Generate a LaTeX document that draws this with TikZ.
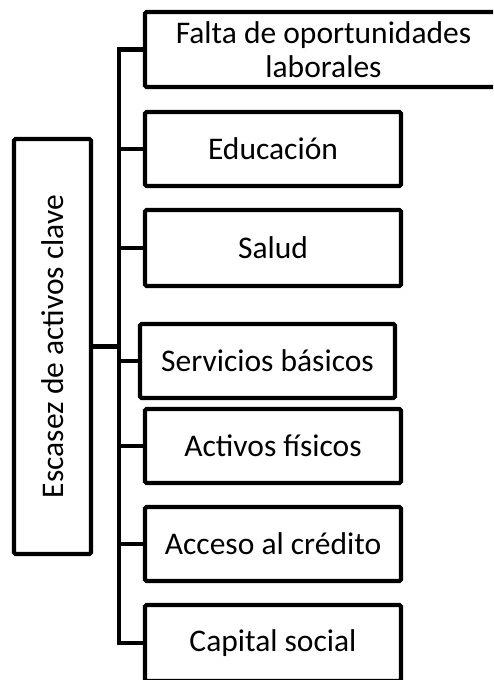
\documentclass[tikz,border=0pt]{standalone}
\usepackage{fontspec}
\setmainfont{Carlito}
\begin{document}
\begin{tikzpicture}[x=1pt,y=-1pt,
  box/.style={draw=black,line width=4.2pt,rounded corners=1.5pt,fill=white,align=center,inner sep=0pt,
    font=\fontsize{31.5}{34}\selectfont},
  conn/.style={draw=black,line width=4.2pt}]
\useasboundingbox (0,0) rectangle (493,680);
\clip (0,0) rectangle (493,680);
\node[box,minimum width=77pt,minimum height=415pt] (main) at (52.5,346.5) {\rotatebox{90}{Escasez de activos clave}};
\node[box,minimum width=357pt,minimum height=75pt] (b1) at (323.5,49.5) {Falta de oportunidades\\laborales};
\node[box,minimum width=256pt,minimum height=74pt] (b2) at (273,149) {Educación};
\node[box,minimum width=256pt,minimum height=76pt] (b3) at (273,248) {Salud};
\node[box,minimum width=255pt,minimum height=74pt] (b4) at (267.5,361) {Servicios básicos};
\node[box,minimum width=256pt,minimum height=74pt] (b5) at (273,446) {Activos físicos};
\node[box,minimum width=256pt,minimum height=74pt] (b6) at (273,544) {Acceso al crédito};
\node[box,minimum width=256pt,minimum height=76pt] (b7) at (273,643) {Capital social};
\coordinate (tt) at (119,49.5);
\coordinate (tb) at (119,643);
\draw[conn,line cap=rect] (tt) -- (tb);
\foreach \b in {b1,b2,b3,b4,b5,b6,b7}{
  \draw[conn] (\b.west) -- (\b.west -| tt);
}
\draw[conn] (main.east) -- (main.east -| tt);
\end{tikzpicture}
\end{document}
